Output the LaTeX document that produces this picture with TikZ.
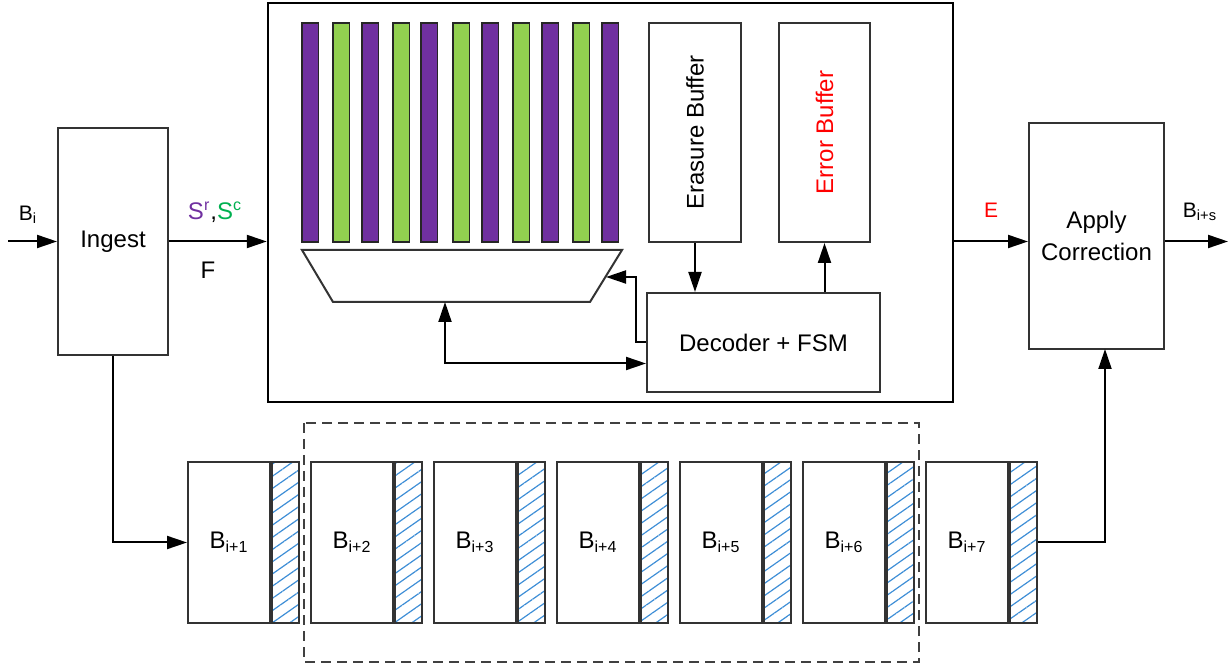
\documentclass[tikz,border=0pt]{standalone}
\usepackage{graphicx}
\usepackage{fontspec}
\setmainfont{Liberation Sans}
\usetikzlibrary{arrows.meta,patterns.meta}

\definecolor{barP}{HTML}{7030A0}
\definecolor{barG}{HTML}{92D050}
\definecolor{labG}{HTML}{00B050}
\definecolor{hatchB}{HTML}{3E8ED6}

\begin{document}
\begin{tikzpicture}[
    x=0.5pt, y=-0.5pt,
    box/.style={draw=black!80, line width=1pt, fill=white, inner sep=0pt,
      align=center, font=\fontsize{12}{16}\selectfont},
    blk/.style={box, minimum width=41pt, minimum height=80.5pt},
    hatchbox/.style={draw=black!80, line width=1pt, inner sep=0pt,
      minimum width=13.5pt, minimum height=80.5pt,
      pattern={Lines[angle=35,distance=5pt,line width=0.6pt]}, pattern color=hatchB},
    bar/.style={draw=black!85, line width=0.6pt},
    muxline/.style={draw=black!80, line width=1pt},
    groupbox/.style={draw=black!75, line width=1pt, dash pattern=on 5pt off 3pt},
    arr/.style={-{Triangle[length=10pt,width=6.5pt]}, line width=1pt},
    arr2/.style={{Triangle[length=10pt,width=6.5pt]}-{Triangle[length=10pt,width=6.5pt]}, line width=1pt},
    lbl/.style={inner sep=1pt, font=\fontsize{12}{14}\selectfont}
  ]

  \useasboundingbox (0,0) rectangle (1231,667);

  %% ---- Ingest and Apply Correction ----
  \node[box, minimum width=55pt, minimum height=113.5pt] (ingest) at (113,241.5) {Ingest};
  \node[box, minimum width=67.5pt, minimum height=113pt] (apply) at (1096.5,236) {Apply\\Correction};

  %% ---- Decoder core ----
  \node[box, line width=1.2pt, draw=black, minimum width=342.5pt, minimum height=199.5pt] (core) at (610.5,202.5) {};

  % syndrome columns, row/column alternating
  \foreach \x/\c in {302/barP,333/barG,362/barP,393/barG,421/barP,453/barG,
                     482/barP,513/barG,542/barP,573/barG,602/barP}
    \draw[bar, fill=\c] (\x,23) rectangle (\x+16.5,242);

  % mux
  \draw[muxline] (302,250) -- (622,250) -- (590,302) -- (333,302) -- cycle;
  \coordinate (muxR) at (606,277);
  \coordinate (muxB) at (445,302);

  % buffers
  \node[box, minimum width=46pt, minimum height=109.5pt] (eras) at (695,132.5) {\rotatebox{90}{Erasure Buffer}};
  \node[box, minimum width=45.5pt, minimum height=109.5pt, text=red] (err) at (824.5,132.5) {\rotatebox{90}{Error Buffer}};
  \node[box, minimum width=116.5pt, minimum height=49.5pt] (dec) at (763.5,342.5) {Decoder + FSM};

  \draw[arr] (eras.south) -- (eras.south |- dec.north);
  \draw[arr] (err.south |- dec.north) -- (err.south);
  \draw[arr] (dec.west) -- ++(-10,0) |- (muxR);
  \path (dec.west) ++(0,21) coordinate (decin);
  \draw[arr2] (muxB) |- (decin);

  %% ---- Block pipeline ----
  \draw[groupbox] (304,423) rectangle (919,662);
  \foreach \k in {1,...,7} {
    \node[blk] (b\k) at (188+123*\k-123+41,542.5) {B\textsubscript{i+\k}};
    \node[hatchbox, anchor=west] (h\k) at (b\k.east) {};
  }

  %% ---- Connections ----
  \coordinate (bin) at (8,241.5);
  \coordinate (bout) at (1228,241.5);
  \coordinate (apin) at (1105,349);
  \draw[arr] (bin) -- (ingest.west);
  \draw[arr] (ingest.east) -- (ingest.east -| core.west);
  \draw[arr] (ingest.east -| core.east) -- (ingest.east -| apply.west);
  \draw[arr] (ingest.east -| apply.east) -- (bout);
  \draw[arr] (ingest.south) |- (b1.west);
  \draw[arr] (h7.east) -| (apin);

  % labels
  \node[lbl, font=\fontsize{10.5}{12}\selectfont] (lbi) at (28,215) {B\textsubscript{i}};
  \node[lbl] (lsyn) at (215,212) {\textcolor{barP}{S\textsuperscript{r}},\textcolor{labG}{S\textsuperscript{c}}};
  \node[lbl] (lf) at (208,270) {F};
  \node[lbl, text=red, font=\fontsize{10.5}{12}\selectfont] (le) at (991,210) {E};
  \node[lbl, font=\fontsize{10.5}{12}\selectfont] (lbs) at (1200,212) {B\textsubscript{i+s}};

\end{tikzpicture}
\end{document}
